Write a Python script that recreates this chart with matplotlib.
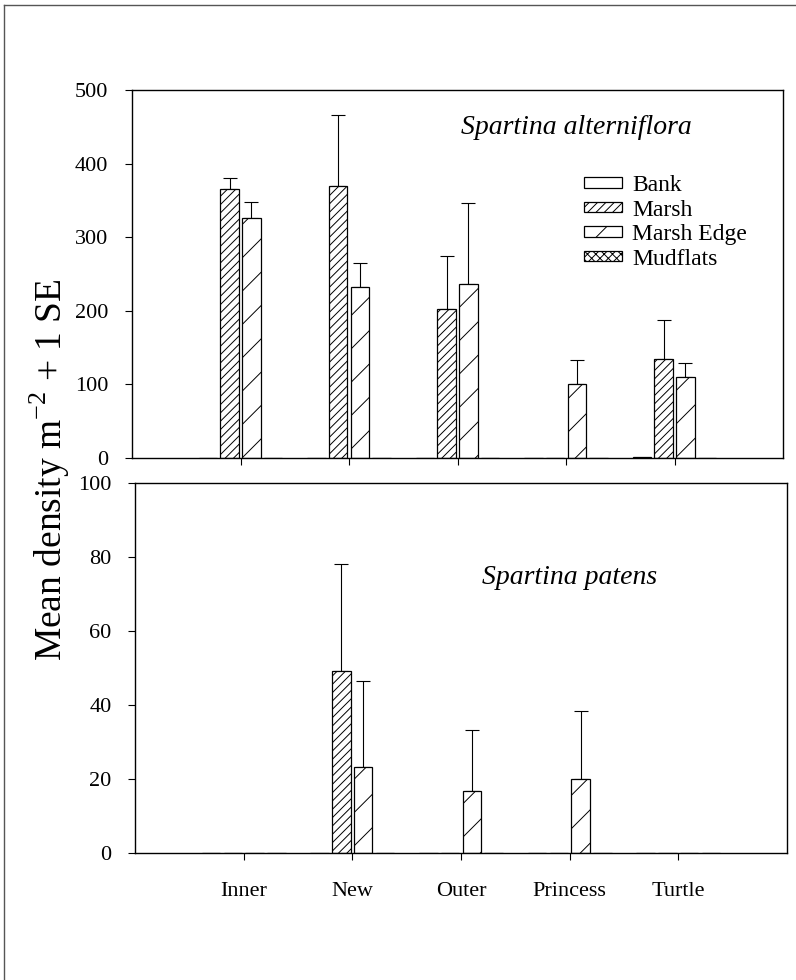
import numpy as np
import matplotlib
matplotlib.use("Agg")
import matplotlib.pyplot as plt
from matplotlib.lines import Line2D

plt.rcParams['font.family'] = ['Liberation Serif', 'DejaVu Serif']
plt.rcParams['hatch.linewidth'] = 0.7
plt.rcParams['mathtext.fontset'] = 'custom'
plt.rcParams['mathtext.rm'] = 'Liberation Serif'

sites = ["Inner", "New", "Outer", "Princess", "Turtle"]
habitats = ["Bank", "Marsh", "Marsh Edge", "Mudflats"]

# Spartina alterniflora: mean density and SE per habitat
alt_mean = {
    "Bank":       [0, 0, 0, 0, 2],
    "Marsh":      [365, 370, 202, 0, 135],
    "Marsh Edge": [326, 233, 237, 101, 110],
    "Mudflats":   [0, 0, 0, 0, 0],
}
alt_se = {
    "Bank":       [0, 0, 0, 0, 0],
    "Marsh":      [15, 96, 72, 0, 53],
    "Marsh Edge": [22, 32, 110, 32, 19],
    "Mudflats":   [0, 0, 0, 0, 0],
}

# Spartina patens
pat_mean = {
    "Bank":       [0, 0, 0, 0, 0],
    "Marsh":      [0, 49.2, 0, 0, 0],
    "Marsh Edge": [0, 23.3, 16.8, 20.0, 0],
    "Mudflats":   [0, 0, 0, 0, 0],
}
pat_se = {
    "Bank":       [0, 0, 0, 0, 0],
    "Marsh":      [0, 28.9, 0, 0, 0],
    "Marsh Edge": [0, 23.2, 16.5, 18.4, 0],
    "Mudflats":   [0, 0, 0, 0, 0],
}

hatches = {"Bank": "", "Marsh": "////", "Marsh Edge": "/", "Mudflats": "xxxx"}
offsets = {"Bank": -0.3, "Marsh": -0.1, "Marsh Edge": 0.1, "Mudflats": 0.3}
bar_w = 0.17

fig = plt.figure(figsize=(7.96, 9.8), dpi=100)
ax1 = fig.add_axes([132 / 796, 1 - 458 / 980, 651 / 796, 368 / 980])
ax2 = fig.add_axes([135 / 796, 1 - 853 / 980, 652 / 796, 370 / 980])

x = np.arange(len(sites))


def draw_panel(ax, means, ses):
    handles = []
    for h in habitats:
        m = np.array(means[h], dtype=float)
        s = np.array(ses[h], dtype=float)
        pos = x + offsets[h]
        b = ax.bar(pos, m, bar_w, color="white", edgecolor="black",
                   hatch=hatches[h], linewidth=0.9, label=h, zorder=2)
        handles.append(b)
        keep = s > 0
        if keep.any():
            ax.errorbar(pos[keep], m[keep],
                        yerr=[np.zeros(keep.sum()), s[keep]],
                        fmt="none", ecolor="black", elinewidth=0.8,
                        capsize=4.7, capthick=0.8, zorder=1)
    ax.set_xlim(-1, 5)
    ax.set_xticks(x)
    for sp in ax.spines.values():
        sp.set_linewidth(1.0)
    ax.tick_params(axis="both", direction="out", length=5, width=0.8,
                   labelsize=16)
    ax.tick_params(axis="y", pad=12)
    return handles


handles = draw_panel(ax1, alt_mean, alt_se)
ax1.set_ylim(0, 500)
ax1.set_yticks([0, 100, 200, 300, 400, 500])
ax1.set_xticklabels([])

draw_panel(ax2, pat_mean, pat_se)
ax2.set_ylim(0, 100)
ax2.set_yticks([0, 20, 40, 60, 80, 100])
ax2.set_xticklabels(sites)
ax2.tick_params(axis="x", pad=16)

fig.legend(handles, habitats, loc="upper left",
           bbox_to_anchor=(584 / 796, 1 - 175 / 980), frameon=False,
           fontsize=17, handlelength=1.6, handleheight=0.3,
           handletextpad=0.45, labelspacing=0.15, borderpad=0, borderaxespad=0)

fig.text(576 / 796, 1 - 127 / 980, "Spartina alterniflora", ha="center",
         va="center", fontsize=20, style="italic")
fig.text(570 / 796, 1 - 578 / 980, "Spartina patens", ha="center",
         va="center", fontsize=20, style="italic")
fig.text(50 / 796, 1 - 470 / 980, r"Mean density m$^{-2}$ + 1 SE",
         ha="center", va="center", rotation=90, fontsize=27)

# outer frame (left and top edges)
fig.add_artist(Line2D([4 / 796, 4 / 796], [0, 1 - 5 / 980],
                      transform=fig.transFigure, color="#555555", lw=1))
fig.add_artist(Line2D([4 / 796, 1], [1 - 5 / 980, 1 - 5 / 980],
                      transform=fig.transFigure, color="#555555", lw=1))

fig.savefig("out.png", dpi=100)
